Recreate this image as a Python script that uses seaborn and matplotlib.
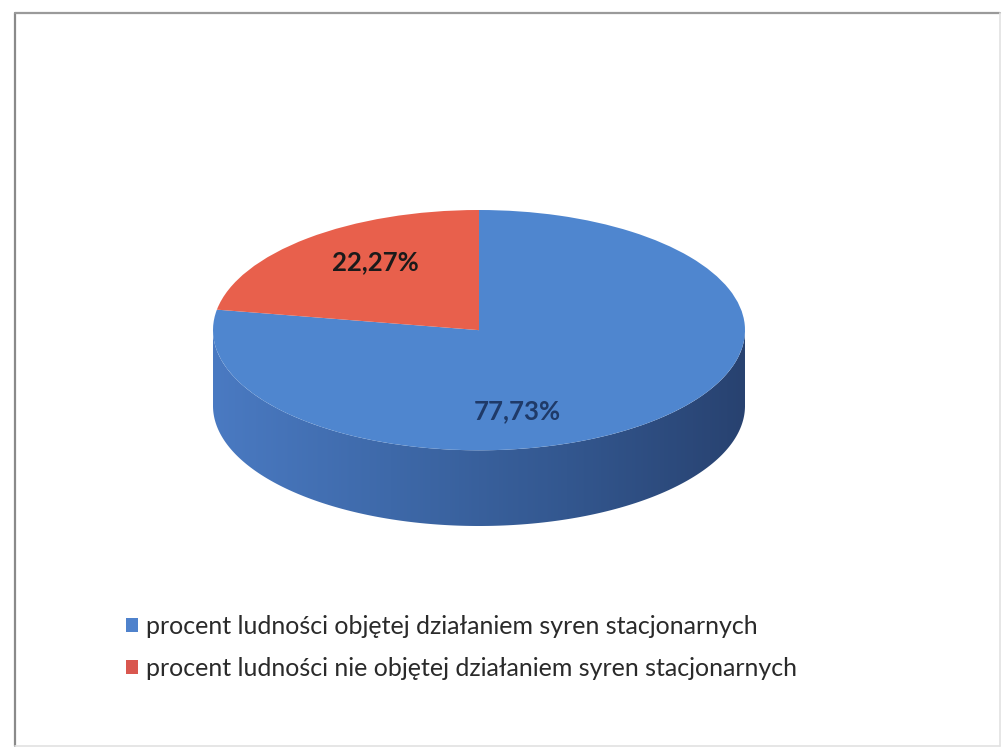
import numpy as np
import matplotlib
matplotlib.use("Agg")
import matplotlib.pyplot as plt
from matplotlib.patches import Patch, Polygon
from matplotlib.colors import LinearSegmentedColormap
from matplotlib.lines import Line2D
import seaborn as sns

# ---- data ----
categories = ["procent ludności objętej działaniem syren stacjonarnych",
              "procent ludności nie objętej działaniem syren stacjonarnych"]
values = [77.73, 22.27]
pct_labels = [f"{v:.2f}%".replace(".", ",") for v in values]

# ---- style ----
sns.set_theme(style="white")
plt.rcParams["font.family"] = ["Lato", "DejaVu Sans"]
top_colors = ["#4F86CF", "#E8604C"]
legend_colors = ["#4F82CC", "#D9574F"]
side_cmap = LinearSegmentedColormap.from_list(
    "side", ["#4A7AC2", "#3E69A9", "#33578F", "#284270"])

W, H = 1002, 747
fig = plt.figure(figsize=(W / 100, H / 100), dpi=100)
fig.patch.set_facecolor("white")

# frame
bg = fig.add_axes([0, 0, 1, 1])
bg.set_xlim(0, W)
bg.set_ylim(H, 0)
bg.axis("off")
bg.add_line(Line2D([15, 15], [13, 746], color="#8a8a8a", lw=1.6))
bg.add_line(Line2D([15, 1000], [13, 13], color="#9a9a9a", lw=1.6))
bg.add_line(Line2D([1000, 1000], [13, 746], color="#e2e2e2", lw=1.2))
bg.add_line(Line2D([15, 1000], [746, 746], color="#e2e2e2", lw=1.2))

# pie axes (pixel box of the 3D pie)
L, R, T, B = 213, 745, 210, 526
depth = 0.63
ax = fig.add_axes([L / W, 1 - B / H, (R - L) / W, (B - T) / H])

# side of the pie (front half)
t = np.linspace(np.pi, 2 * np.pi, 400)
xs = np.cos(t)
ys = np.sin(t)
poly_pts = np.vstack([np.column_stack([xs, ys]),
                      np.column_stack([xs[::-1], ys[::-1] - depth])])
side_poly = Polygon(poly_pts, closed=True, facecolor="none", edgecolor="none")
ax.add_patch(side_poly)
grad = np.linspace(0, 1, 256).reshape(1, -1)
im = ax.imshow(grad, cmap=side_cmap, extent=(-1, 1, -1 - depth, 0.2),
               aspect="auto", zorder=1, interpolation="bilinear")
im.set_clip_path(side_poly)

# top face
wedges, _ = ax.pie(values, colors=top_colors, startangle=90,
                   counterclock=False, radius=1, center=(0, 0),
                   wedgeprops=dict(linewidth=0))
for w in wedges:
    w.set_zorder(2)
ax.set_aspect("auto")
ax.set_xlim(-1, 1)
ax.set_ylim(-1 - depth, 1)
ax.axis("off")

# percentage labels
ax.text(0.145, -0.67, pct_labels[0], ha="center", va="center",
        fontsize=18.5, fontweight="bold", color="#1F3A68", zorder=3)
ax.text(-0.39, 0.57, pct_labels[1], ha="center", va="center",
        fontsize=18.5, fontweight="bold", color="#1a1a1a", zorder=3)

# legend
handles = [Patch(facecolor=c, edgecolor="none") for c in legend_colors]
fig.legend(handles, categories, loc="upper left",
           bbox_to_anchor=(103 / W, 1 - 592 / H), frameon=False,
           fontsize=18, handlelength=0.5, handleheight=0.5,
           handletextpad=0.3, labelspacing=0.76, labelcolor="#2a2a2a")

fig.savefig("out.png", dpi=100, facecolor="white")
